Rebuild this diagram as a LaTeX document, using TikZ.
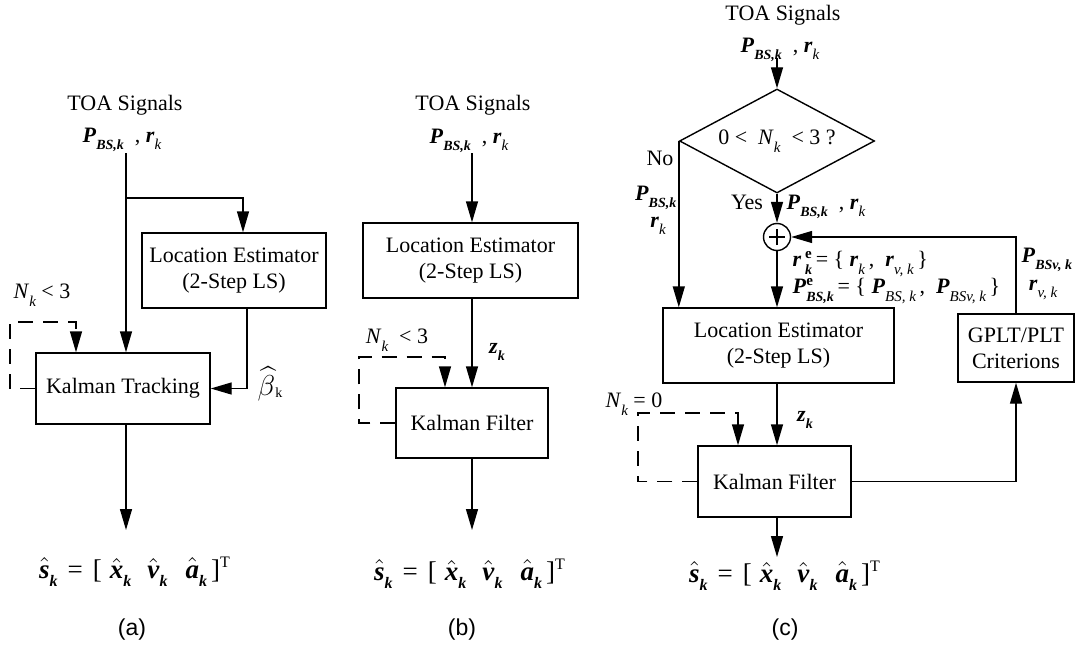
\documentclass[tikz,border=0pt]{standalone}
\usepackage{fontspec}
\setmainfont{Liberation Serif}
\newfontfamily\capfont{Liberation Sans}
\usepackage{amsmath}
\usetikzlibrary{shapes.geometric,arrows.meta}
\newcommand{\bi}[1]{\textbf{\textit{#1}}}
\newcommand{\hb}[1]{\ensuremath{\hat{\text{\bi{#1}}}}}
% low subscripts, bold-italic and italic
\newcommand{\sbb}[1]{\raisebox{-3.8pt}{\fontsize{7}{7}\selectfont\bfseries\itshape #1}}
\newcommand{\sbi}[1]{\raisebox{-3.8pt}{\fontsize{7.5}{7.5}\selectfont\itshape #1}}
\newcommand{\sbe}[1]{\raisebox{-4.2pt}{\fontsize{8}{8}\selectfont\bfseries\itshape #1}}
\newcommand{\sps}[2]{\rlap{\raisebox{4pt}{\fontsize{7.5}{7.5}\selectfont\bfseries #1}}\raisebox{-4pt}{\fontsize{7}{7}\selectfont\bfseries\itshape #2}}
\newcommand{\outeq}{\hb{s}\sbe{k}\hspace{5pt}=\hspace{5pt}[\hspace{4pt}\hb{x}\sbe{k}\hspace{8pt}\hb{v}\sbe{k}\hspace{9pt}\hb{a}\sbe{k}\hspace{2pt}]\textsuperscript{\fontsize{8}{8}\selectfont T}}
\newcommand{\inputs}{\bi{P}\sbb{BS,k}\ \ , \bi{r}\sbi{k}}
\begin{document}
\begin{tikzpicture}[x=0.5pt,y=-0.5pt, font=\fontsize{11}{13}\selectfont, line width=0.7pt,
 arr/.style={-{Triangle[length=10.5pt,width=6pt]}},
 dsh/.style={dash pattern=on 7.5pt off 5pt},
 box/.style={draw,inner sep=0pt,align=center},
 lbl/.style={inner sep=0pt},
 eqs/.style={inner sep=0pt,font=\fontsize{13.5}{15}\selectfont},
 subcap/.style={font=\capfont\fontsize{11.5}{13}\selectfont, inner sep=0pt}]
\useasboundingbox (0,0) rectangle (1075,647);

% ---------- (a) ----------
\node[lbl] (toaA) at (125,105) {TOA Signals};
\node[lbl] (inA) at (122,140) {\inputs};
\node[box,minimum width=92pt,minimum height=37.5pt] (locA) at (234,270.5) {Location Estimator\\(2-Step LS)};
\node[box,minimum width=87pt,minimum height=35.5pt] (kalA) at (123,388.5) {Kalman Tracking};
\coordinate (a0) at (126,153);
\coordinate (a1) at (126,198);
\coordinate (dA) at (10,322);
\coordinate (oA) at (126,530);
\draw[arr] (a0) -- (a0 |- kalA.north);
\draw[arr] (a1) -| ([xshift=4.5pt]locA.north);
\draw[arr] ([xshift=6.5pt]locA.south) |- (kalA.east);
\draw[arr,dsh] (kalA.west) -| (dA) -| ([xshift=-23.5pt]kalA.north);
\draw[arr] (kalA.south -| oA) -- (oA);
\node[lbl] (nA) at (42,295) {\textit{N}\sbi{k} < 3};
\node[lbl] (bA) at (270,384) {\fontsize{15}{15}\selectfont$\widehat{\beta}$\raisebox{-1pt}{\fontsize{7}{7}\selectfont k}};
\node[eqs] (eqA) at (135,572) {\outeq};
\node[subcap] (capA) at (132,630) {(a)};

% ---------- (b) ----------
\node[lbl] (toaB) at (473,105) {TOA Signals};
\node[lbl] (inB) at (469,141) {\inputs};
\node[box,minimum width=107.5pt,minimum height=37.5pt] (locB) at (470.5,260.5) {Location Estimator\\(2-Step LS)};
\node[box,minimum width=76pt,minimum height=35pt] (kalB) at (472,423) {Kalman Filter};
\coordinate (b0) at (472,153);
\coordinate (dB) at (359,357);
\coordinate (oB) at (472,530);
\draw[arr] (b0) -- (b0 |- locB.north);
\draw[arr] (locB.south -| b0) -- (kalB.north -| b0);
\draw[arr,dsh] (kalB.west) -| (dB) -| ([xshift=-13.5pt]kalB.north);
\draw[arr] (kalB.south -| oB) -- (oB);
\node[lbl] (nB) at (397,340) {\textit{N}\sbi{k}\ \ < 3};
\node[lbl] (zB) at (497,352) {\bi{z}\sbb{k}};
\node[eqs] (eqB) at (470,574) {\outeq};
\node[subcap] (capB) at (462,630) {(b)};

% ---------- (c) ----------
\node[lbl] (toaC) at (783,15) {TOA Signals};
\node[lbl] (inC) at (780,50) {\inputs};
\node[draw,diamond,aspect=1.875,minimum width=97.5pt,minimum height=52pt,inner sep=0pt] (dia) at (777,141) {0 <\ \ \textit{N}\sbi{k}\ \ < 3 ?};
\coordinate (c0) at (777,58);
\draw[arr] (c0) -- (dia.north);
\node[circle,draw,minimum size=13.5pt,inner sep=0pt] (sum) at (777,237) {};
\draw[line width=1.2pt] ([xshift=-4pt]sum.center) -- ([xshift=4pt]sum.center) ([yshift=-4pt]sum.center) -- ([yshift=4pt]sum.center);
\draw[arr] (dia.south) -- (sum.north);
\node[box,minimum width=115.5pt,minimum height=37.5pt] (locC) at (778.5,345.5) {Location Estimator\\(2-Step LS)};
\node[box,minimum width=58pt,minimum height=34pt] (gplt) at (1016,348) {GPLT/PLT\\Criterions};
\node[box,minimum width=76.5pt,minimum height=35.5pt] (kalC) at (774.5,481.5) {Kalman Filter};
\draw[arr] (sum.south) -- (sum.south |- locC.north);
\draw[arr] (dia.west) -- (dia.west |- locC.north);
\draw[arr] (locC.south -| sum) -- (kalC.north -| sum);
\draw[arr] (kalC.east) -| (gplt.south);
\draw[arr] (gplt.north) |- (sum.east);
\coordinate (dC) at (638,413);
\draw[arr,dsh] (kalC.west) -| (dC) -| ([xshift=-18.25pt]kalC.north);
\coordinate (oC) at (777,557);
\draw[arr] (kalC.south -| oC) -- (oC);
\node[lbl] (no) at (660,158) {No};
\node[lbl,anchor=east] (pNo) at (677,198) {\bi{P}\sbb{BS,k}};
\node[lbl] (rNo) at (658,226) {\bi{r}\sbi{k}};
\node[lbl] (yes) at (747,202) {Yes};
\node[lbl,anchor=west] (pYes) at (786,207) {\inputs};
\node[lbl,anchor=west] (re) at (792,264) {\bi{r}\,\sps{e}{k}\,= \{ \bi{r}\sbi{k}\,, \ \bi{r}\sbi{v, k}\,\}};
\node[lbl,anchor=west] (pe) at (792,291) {\bi{P}\sps{e}{BS,k}\,= \{ \bi{P}\sbi{BS, k}\,, \ \bi{P}\sbi{BSv, k}\,\}};
\node[lbl,anchor=west] (pv) at (1021,260) {\bi{P}\sbb{BSv, k}};
\node[lbl] (rv) at (1043,290) {\bi{r}\sbi{v, k}};
\node[lbl] (zC) at (805,420) {\bi{z}\sbb{k}};
\node[lbl] (nC) at (634,404) {\textit{N}\sbi{k} = 0};
\node[eqs] (eqC) at (785,576) {\outeq};
\node[subcap] (capC) at (785,630) {(c)};
\end{tikzpicture}
\end{document}
